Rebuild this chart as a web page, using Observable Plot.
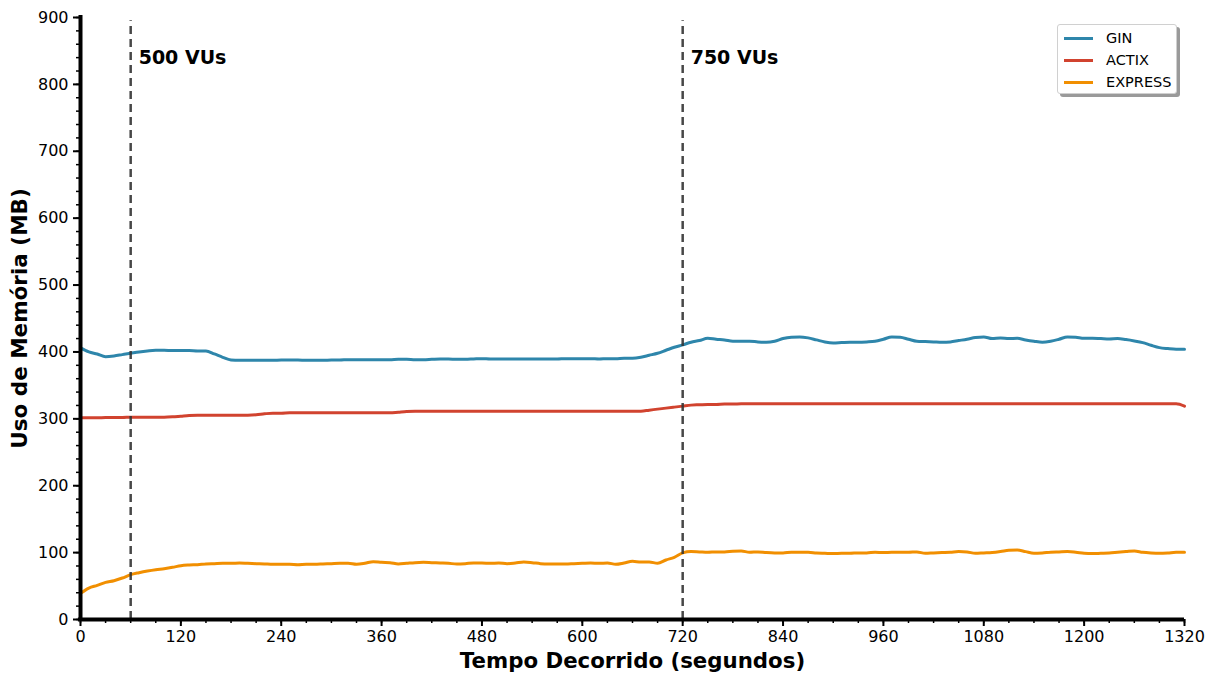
<!DOCTYPE html>
<html>
<head>
<meta charset="utf-8">
<script src="https://cdn.jsdelivr.net/npm/d3@7"></script>
<script src="https://cdn.jsdelivr.net/npm/@observablehq/plot@0.6"></script>
<style>
  body { margin: 0; background: #fff; font-family: "DejaVu Sans", sans-serif; }
  #wrap { position: relative; width: 1215px; height: 675px; }
  #legend { position: absolute; left: 1057px; top: 24px; width: 120px; height: 70px; box-sizing: border-box;
    border: 1px solid #d0d0d0; border-radius: 3px; background: #fff; box-shadow: 3px 3px 0 #9a9a9a;
    font-family: "DejaVu Sans", sans-serif; font-size: 14.5px; color: #000; }
  .row { position: absolute; left: 6px; height: 20px; display: flex; align-items: center; }
  .sw { width: 29px; height: 3px; margin-right: 13px; }
</style>
</head>
<body>
<div id="wrap"><div id="chart"></div><div id="legend"></div></div>
<script>
const times = d3.range(0, 1321, 10);
const seriesNames = ["GIN", "ACTIX", "EXPRESS"];
const seriesColors = ["#2e86ab", "#d1432f", "#f18f01"];
const gin = [406,400,397,393,394,396,398,400,401.5,402.5,402.5,402,402,402,401.5,401.5,397,392,388,387.5,
  387.5,387.5,387.5,387.5,388,388,388,387.5,387.5,387.5,388,388,388.5,388.5,388.5,388.5,388.5,388.5,389,389,
  388.5,388.5,389,389.5,389.5,389,389,389.5,390,389.5,389.5,389.5,389.5,389.5,389.5,389.5,389.5,389.5,390,390,
  390,390,389.5,390,390,390.5,390.5,392,395,398,402.5,407,410.5,414.5,417,420.5,419,418,416,416,
  416,415,414.5,416,420,422,422.5,421,418,415,413.5,414,414.5,414.5,415,416,419,422.5,422,419,
  416,415.5,415,414.5,415,417,419,421.5,422.5,420,421,420,420.5,418,416,414.5,416,419,422.5,422,
  420.5,420.5,420,419.5,420,418.5,416.5,414,410,406.5,405,404,404];
const actix = [301.5,301.5,301.5,302,302,302,302.5,302.5,302.5,302.5,302.5,303,304,305,305.5,305.5,305.5,305.5,305.5,305.5,
  305.5,306,307.5,308.5,308.5,309,309,309,309,309,309,309,309,309,309,309,309,309,310,311,
  311.5,311.5,311.5,311.5,311.5,311.5,311.5,311.5,311.5,311.5,311.5,311.5,311.5,311.5,311.5,311.5,311.5,311.5,311.5,311.5,
  311.5,311.5,311.5,311.5,311.5,311.5,311.5,311.5,313,314.5,316,317.5,319,320.5,321,321.5,321.5,322,322,322.5,
  322.5,322.5,322.5,322.5,322.5,322.5,322.5,322.5,322.5,322.5,322.5,322.5,322.5,322.5,322.5,322.5,322.5,322.5,322.5,322.5,
  322.5,322.5,322.5,322.5,322.5,322.5,322.5,322.5,322.5,322.5,322.5,322.5,322.5,322.5,322.5,322.5,322.5,322.5,322.5,322.5,
  322.5,322.5,322.5,322.5,322.5,322.5,322.5,322.5,322.5,322.5,322.5,322.5,319];
const express = [39,47,51,55.5,58,62,67,70,72.5,74.5,76,78,80.5,81.5,82,83,83.5,84,84,84.5,
  84,83.5,83,82.5,82.5,82.5,82,82.5,82.5,83,83.5,84,84,82.5,84,86.5,85.5,85,83,84,
  85,85.5,85,84.5,84,83,83.5,84.5,84.5,84,84.5,83.5,84.5,86,85,83.5,83,83,83,83.5,
  84,84.5,84,84.5,82.5,84.5,87,86,86,84,89,93,99.5,101.5,101,100.5,101,101,102,102.5,
  100.5,101,100,99.5,99.5,100.5,100.5,100.5,99.5,99,98.5,99,99,99.5,99.5,100.5,100,100.5,100.5,100.5,
  101,99,99.5,100,100.5,101.5,101,99,99.5,100,101.5,103.5,104,101.5,99,99.5,100.5,101,101.5,100.5,
  99,98.5,99,99.5,100.5,101.5,102.5,100.5,99.5,99,99.5,100.5,100.5];
const xMajor = d3.range(0, 1321, 120);
const xMinor = d3.range(0, 1321, 30);
const yMajor = d3.range(0, 901, 100);
const yMinor = d3.range(0, 901, 20);
const events = [{t: 60, label: "500 VUs"}, {t: 720, label: "750 VUs"}];
const xLabel = "Tempo Decorrido (segundos)";
const yLabel = "Uso de Memória (MB)";

const valuesBy = {GIN: gin, ACTIX: actix, EXPRESS: express};
const rows = [];
for (const s of seriesNames) valuesBy[s].forEach((v, i) => rows.push({t: times[i], v, s}));

const chart = Plot.plot({
  width: 1215, height: 675,
  marginLeft: 80, marginRight: 31, marginTop: 17, marginBottom: 56,
  style: {fontFamily: "DejaVu Sans, sans-serif", fontSize: "16px", color: "#000", background: "#fff"},
  x: {domain: [0, 1320], axis: null},
  y: {domain: [0, 900], axis: null},
  color: {domain: seriesNames, range: seriesColors},
  marks: [
    Plot.axisY({ticks: yMinor, tickSize: 4, strokeWidth: 1.5, tickFormat: () => "", label: null}),
    Plot.axisY({ticks: yMajor, tickSize: 7, strokeWidth: 2, tickPadding: 5, fontSize: 16, tickFormat: d3.format("d"), label: null}),
    Plot.axisX({ticks: xMinor, tickSize: 4, strokeWidth: 1.5, tickFormat: () => "", label: null}),
    Plot.axisX({ticks: xMajor, tickSize: 7, strokeWidth: 2, tickPadding: 4, fontSize: 16, tickFormat: d3.format("d"), label: null}),
    Plot.line(rows, {x: "t", y: "v", z: "s", stroke: "s", strokeWidth: 3, curve: "monotone-x"}),
    Plot.ruleX(events, {x: "t", y1: 0, y2: 895, stroke: "#333", strokeOpacity: 0.9, strokeWidth: 2.5, strokeDasharray: "8,5"}),
    Plot.text(events, {x: "t", y: 840, text: "label", dx: 8, textAnchor: "start", fontWeight: "bold", fontSize: 19}),
    Plot.ruleX([0], {stroke: "#000", strokeWidth: 4, y1: 0, y2: 903}),
    Plot.ruleY([0], {stroke: "#000", strokeWidth: 4, x1: -2.5, x2: 1320}),
    Plot.text([yLabel], {frameAnchor: "left", dx: -60, rotate: -90, textAnchor: "middle", text: d => d, fontWeight: "bold", fontSize: 21.5}),
    Plot.text([xLabel], {frameAnchor: "bottom", dy: 48, textAnchor: "middle", text: d => d, fontWeight: "bold", fontSize: 21.3})
  ]
});
document.getElementById("chart").appendChild(chart);

const legend = document.getElementById("legend");
seriesNames.forEach((name, i) => {
  const r = document.createElement("div");
  r.className = "row";
  r.style.top = (3 + i * 22) + "px";
  r.innerHTML = `<span class="sw" style="background:${seriesColors[i]}"></span><span>${name}</span>`;
  legend.appendChild(r);
});
</script>
</body>
</html>
